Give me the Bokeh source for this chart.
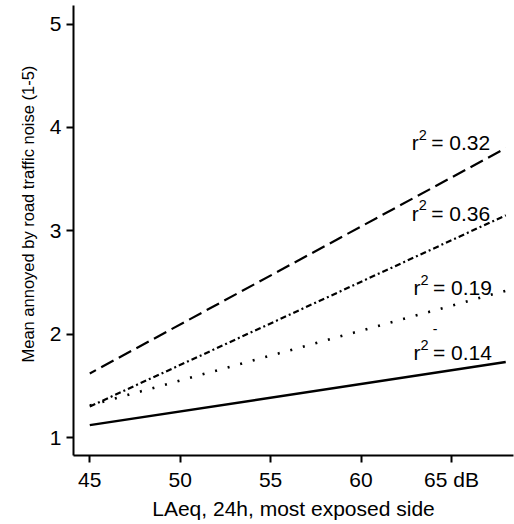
from bokeh.plotting import figure
from bokeh.models import Range1d, FixedTicker, Title
from bokeh.core.properties import value
from bokeh.embed import file_html
from bokeh.resources import INLINE

# Data
x_db = [45, 68]
y_r032 = [1.62, 3.80]   # dashed
y_r036 = [1.30, 3.15]   # dash-dot
y_r019 = [1.31, 2.42]   # dotted
y_r014 = [1.12, 1.73]   # solid
r2_values = ["0.32", "0.36", "0.19", "0.14"]
label_x = [62.8, 62.8, 62.9, 62.9]
label_y = [3.85, 3.17, 2.45, 1.82]
x_ticks = [45, 50, 55, 60, 65]
y_ticks = [1, 2, 3, 4, 5]

FONT = "Liberation Sans"

p = figure(width=514, height=524, output_backend="svg", toolbar_location=None,
           x_range=Range1d(44.1, 68.43), y_range=Range1d(0.826, 5.18),
           min_border_left=73, min_border_right=1, min_border_top=5, min_border_bottom=69)
p.outline_line_color = None
p.grid.grid_line_color = None
p.background_fill_color = "white"
p.border_fill_color = "white"

p.line(x_db, y_r032, line_color="black", line_width=2.2, line_dash="14 6", line_dash_offset=7)
p.line(x_db, y_r036, line_color="black", line_width=2.2, line_dash="6 3 2 3")
p.line(x_db, y_r019, line_color="black", line_width=2.6, line_dash="2 11")
p.line(x_db, y_r014, line_color="black", line_width=2.5)

n = len(r2_values)
p.text(label_x, label_y, text=["r"] * n, text_font=value(FONT), text_font_size="21px",
       text_color="black", text_align="left", text_baseline="alphabetic")
p.text(label_x, label_y, text=["2"] * n, text_font=value(FONT), text_font_size="14.5px",
       text_color="black", text_align="left", text_baseline="alphabetic",
       x_offset=7, y_offset=-8)
p.text(label_x, label_y, text=["= " + v for v in r2_values], text_font=value(FONT),
       text_font_size="21px", text_color="black", text_align="left",
       text_baseline="alphabetic", x_offset=19.5)
p.text([64.1], [2.05], text=["-"], text_font=value(FONT), text_font_size="14px",
       text_color="black", text_align="center", text_baseline="middle")

for ax in (p.xaxis, p.yaxis):
    ax.axis_line_width = 2
    ax.axis_line_color = "black"
    ax.major_tick_line_width = 2
    ax.major_tick_line_color = "black"
    ax.major_tick_out = 7
    ax.major_tick_in = 0
    ax.minor_tick_line_color = None
    ax.major_label_text_font = FONT
    ax.major_label_text_font_size = "21px"
    ax.major_label_text_color = "black"
    ax.axis_label_text_font = FONT
    ax.axis_label_text_font_style = "normal"
    ax.axis_label_text_color = "black"

p.xaxis.ticker = FixedTicker(ticks=x_ticks)
p.yaxis.ticker = FixedTicker(ticks=y_ticks)
p.xaxis.major_label_overrides = {65: "65 dB"}
p.xaxis.axis_label = "LAeq, 24h, most exposed side"
p.xaxis.axis_label_text_font_size = "21px"
p.xaxis.major_label_standoff = 5
p.yaxis.major_label_standoff = 5
p.xaxis.axis_label_standoff = 3

ytitle = Title(text="Mean annoyed by road traffic noise (1-5)", align="left", offset=93,
               text_font=FONT, text_font_size="16.5px", text_font_style="normal",
               text_color="black", standoff=20)
p.add_layout(ytitle, "left")

open("out.html", "w").write(file_html(p, INLINE))
